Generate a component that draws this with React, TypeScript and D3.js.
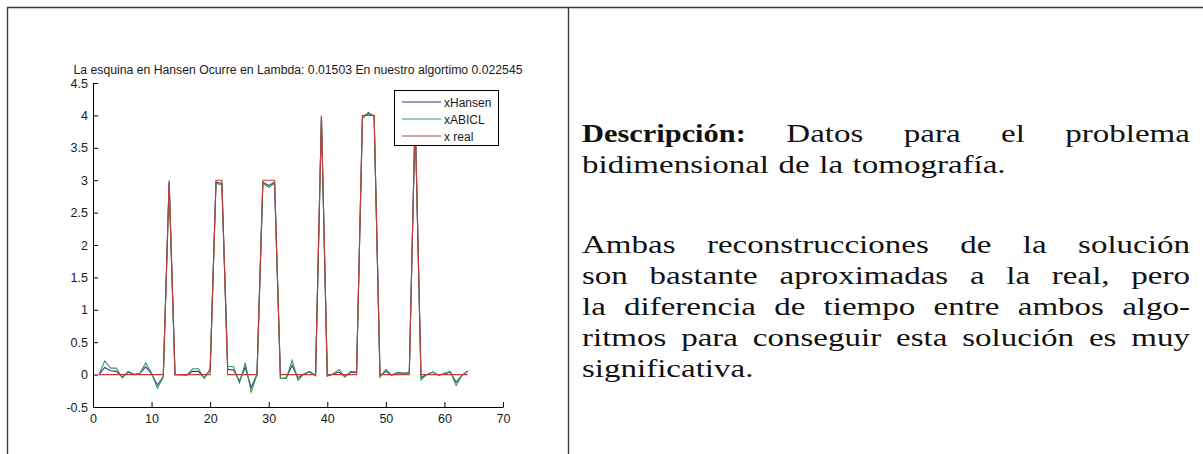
import * as d3 from 'd3'
import { useEffect, useRef } from 'react'

// sample index 1..64
const xIndex = d3.range(1, 65)

const xReal = [
  0, 0, 0, 0, 0, 0, 0, 0, 0, 0, 0, 0, 3, 0, 0, 0, 0, 0, 0, 0, 3, 3, 0, 0, 0, 0, 0, 0, 3, 3, 3, 0,
  0, 0, 0, 0, 0, 0, 4, 0, 0, 0, 0, 0, 0, 4, 4, 4, 0, 0, 0, 0, 0, 0, 4, 0, 0, 0, 0, 0, 0, 0, 0, 0,
]

const xHansen = [
  0, 0.11, 0.06, 0.05, -0.04, 0.04, 0, 0.02, 0.12, 0.01, -0.16, -0.03, 2.97, 0, 0, -0.01,
  0.05, 0.05, -0.05, 0.07, 2.97, 2.95, 0.08, 0.07, -0.1, 0.11, -0.2, 0, 2.97, 2.92, 2.97, -0.06,
  -0.05, 0.14, -0.05, 0.01, 0.04, -0.01, 3.97, -0.02, 0.01, 0.04, -0.03, 0.04, 0.03, 3.96,
  4.03, 3.99, -0.02, 0.05, -0.01, 0.03, 0.02, 0.03, 3.98, -0.05, 0, 0.04, -0.01, 0.01, 0.04,
  -0.12, -0.01, 0.05,
]

const xABICL = [
  0, 0.21, 0.1, 0.1, -0.05, 0.05, 0, 0.02, 0.18, 0.02, -0.21, -0.04, 2.95, 0, 0, -0.01,
  0.09, 0.09, -0.06, 0.09, 2.95, 2.93, 0.13, 0.12, -0.13, 0.18, -0.27, 0, 2.95, 2.89, 2.95, -0.06,
  -0.06, 0.22, -0.09, 0.01, 0.05, -0.02, 3.96, -0.02, 0.01, 0.08, -0.04, 0.05, 0.04, 3.95,
  4.05, 3.98, -0.04, 0.08, -0.01, 0.03, 0.02, 0.03, 3.97, -0.08, 0, 0.04, -0.01, 0.02, 0.05,
  -0.17, -0.01, 0.06,
]

const seriesNames = ['xHansen', 'xABICL', 'x real']
const seriesColors = ['#34348f', '#2f9a4e', '#c23b3b']

const xTicks = [0, 10, 20, 30, 40, 50, 60, 70]
const yTicks = [-0.5, 0, 0.5, 1, 1.5, 2, 2.5, 3, 3.5, 4, 4.5]
const yTickLabels = ['-0.5', '0', '0.5', '1', '1.5', '2', '2.5', '3', '3.5', '4', '4.5']

const title = 'La esquina en Hansen Ocurre en Lambda: 0.01503 En nuestro algortimo 0.022545'

// description text, line by line as in the original layout
const textLines = [
  { words: ['Descripción:', 'Datos', 'para', 'el', 'problema'], justify: true, bold: 1 },
  { words: ['bidimensional', 'de', 'la', 'tomografía.'], justify: false, bold: 0 },
  { words: ['Ambas', 'reconstrucciones', 'de', 'la', 'solución'], justify: true, bold: 0 },
  { words: ['son', 'bastante', 'aproximadas', 'a', 'la', 'real,', 'pero'], justify: true, bold: 0 },
  { words: ['la', 'diferencia', 'de', 'tiempo', 'entre', 'ambos', 'algo-'], justify: true, bold: 0 },
  { words: ['ritmos', 'para', 'conseguir', 'esta', 'solución', 'es', 'muy'], justify: true, bold: 0 },
  { words: ['significativa.'], justify: false, bold: 0 },
]
const textBaselines = [142, 173, 253, 284, 315, 346, 377]

const width = 1203
const height = 454
const plotFont = '"Liberation Sans", Arial, sans-serif'
const serifFont = '"Liberation Serif", "Times New Roman", serif'
const serifSize = 26
const stretch = 1.27
const boldStretch = 1.17

let measureCtx: CanvasRenderingContext2D | null = null
function measure(text: string, font: string) {
  if (!measureCtx) measureCtx = document.createElement('canvas').getContext('2d')
  measureCtx!.font = font
  return measureCtx!.measureText(text).width
}

export default function App() {
  const x = d3.scaleLinear([0, 70], [93, 503])
  const y = d3.scaleLinear([-0.5, 4.5], [407, 83])

  const gx = useRef<SVGGElement>(null)
  const gy = useRef<SVGGElement>(null)

  useEffect(() => {
    const ax = d3
      .axisBottom(x)
      .tickValues(xTicks)
      .tickFormat((d) => String(d))
      .tickSizeInner(-5)
      .tickSizeOuter(0)
      .tickPadding(7)
    const g = d3.select(gx.current).call(ax)
    g.selectAll('text').attr('font-family', plotFont).attr('font-size', 12.5).attr('fill', '#1a1a1a')
    g.selectAll('line,path').attr('stroke', '#000')
  }, [])

  useEffect(() => {
    const ay = d3
      .axisLeft(y)
      .tickValues(yTicks)
      .tickFormat((d, i) => yTickLabels[i])
      .tickSizeInner(-5)
      .tickSizeOuter(0)
      .tickPadding(5)
    const g = d3.select(gy.current).call(ay)
    g.selectAll('text').attr('font-family', plotFont).attr('font-size', 12.5).attr('fill', '#1a1a1a')
    g.selectAll('line,path').attr('stroke', '#000')
  }, [])

  const line = d3
    .line<number>()
    .x((d, i) => x(xIndex[i]))
    .y((d) => y(d))

  const series = [xHansen, xABICL, xReal]

  // justified text layout
  const left = 582
  const right = 1190
  const normalFont = `${serifSize}px ${serifFont}`
  const boldFont = `bold ${serifSize}px ${serifFont}`
  const spaceW = measure(' ', normalFont) * stretch * 1.15
  const laidOut = textLines.map((ln, li) => {
    const widths = ln.words.map((w, wi) =>
      wi < ln.bold ? measure(w, boldFont) * boldStretch : measure(w, normalFont) * stretch
    )
    const total = d3.sum(widths)
    const gap =
      ln.justify && ln.words.length > 1 ? (right - left - total) / (ln.words.length - 1) : spaceW
    let cx = left
    return ln.words.map((w, wi) => {
      const pos = cx
      cx += widths[wi] + gap
      return { w, x: pos, y: textBaselines[li], bold: wi < ln.bold }
    })
  })

  return (
    <svg
      width={width}
      height={height}
      style={{ position: 'absolute', left: 0, top: 0, background: '#fff' }}
    >
      <rect width={width} height={height} fill="#fff" />
      {/* table borders */}
      <g stroke="#3a3a3a" strokeWidth={1.4}>
        <line x1={7} x2={width} y1={7.5} y2={7.5} />
        <line x1={7.5} x2={7.5} y1={7} y2={height} />
        <line x1={568.5} x2={568.5} y1={7} y2={height} />
      </g>

      {/* plot */}
      <text
        x={(x(0) + x(70)) / 2}
        y={74}
        textAnchor="middle"
        fontFamily={plotFont}
        fontSize={12}
        fill="#1a1a1a"
        textLength={449}
        lengthAdjust="spacingAndGlyphs"
      >
        {title}
      </text>
      <g ref={gx} transform={`translate(0,${y(-0.5)})`} />
      <g ref={gy} transform={`translate(${x(0)},0)`} />
      <g fill="none" strokeWidth={1.1}>
        {series.map((s, i) => (
          <path key={i} d={line(s) ?? ''} stroke={seriesColors[i]} />
        ))}
      </g>

      {/* legend */}
      <g>
        <rect x={394.5} y={90.5} width={104} height={55} fill="#fff" stroke="#000" strokeWidth={1} />
        {seriesNames.map((n, i) => (
          <g key={n} transform={`translate(0,${102 + i * 17})`}>
            <line x1={402} x2={441} y1={0} y2={0} stroke={seriesColors[i]} strokeWidth={1.1} />
            <text x={444} y={4.5} fontFamily={plotFont} fontSize={12} fill="#1a1a1a">
              {n}
            </text>
          </g>
        ))}
      </g>

      {/* description */}
      <g fontFamily={serifFont} fontSize={serifSize} fill="#111">
        {laidOut.flat().map((d, i) => (
          <text
            key={i}
            transform={`translate(${d.x},${d.y}) scale(${d.bold ? boldStretch : stretch},1)`}
            fontWeight={d.bold ? 'bold' : 'normal'}
          >
            {d.w}
          </text>
        ))}
      </g>
    </svg>
  )
}
